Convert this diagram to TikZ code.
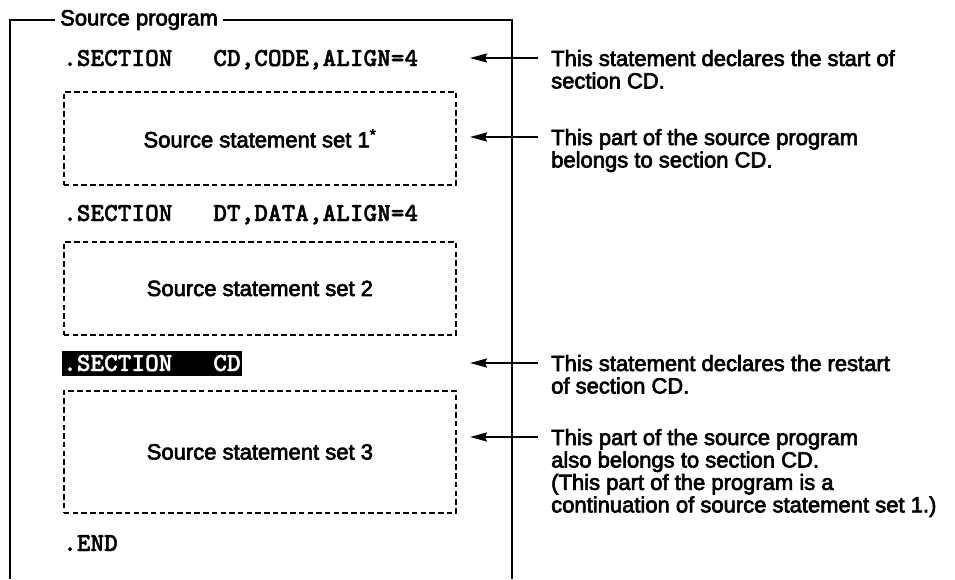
\documentclass[tikz,border=0pt]{standalone}
\usepackage{fontspec}
\setmainfont{Liberation Sans}
\newfontfamily\labelfont{Liberation Sans}[FakeBold=3]
\newfontfamily\codefont{lmmonolt10-bold.otf}[FakeBold=1.5]
\usetikzlibrary{arrows.meta}

\begin{document}
\begin{tikzpicture}[x=1pt,y=-1pt,
  sans/.style={font=\labelfont\fontsize{22}{21.7}\selectfont},
  codetext/.style={font=\codefont\fontsize{26}{26}\selectfont},
  code/.style={codetext, anchor=base west, inner sep=0pt},
  frameline/.style={line width=2.4pt},
  stmtbox/.style={draw, dash pattern=on 5.5pt off 3.2pt, line width=1.8pt,
                  anchor=north west, sans, inner sep=0pt},
  note/.style={sans, anchor=base west, inner sep=0pt},
  pointer/.style={line width=2.2pt, -{Stealth[length=17pt,width=9pt,inset=2pt]}}]
\useasboundingbox (0,0) rectangle (955,579);

% outer frame of the source program
\node[sans, anchor=west, inner xsep=5pt, inner ysep=0pt] (title) at (55,20) {Source program};
\draw[frameline] (10,579) -- (10,20) -- (title.west);
\draw[frameline] (title.east) -- (512,20) -- (512,579);

% program lines and statement sets
\node[code] (sec1) at (63,66) {.SECTION~~~CD,CODE,ALIGN=4};
\node[stmtbox, minimum width=392pt, minimum height=93pt] (set1) at (63,91)
  {Source statement set 1\textsuperscript{*}};
\node[code] (sec2) at (63,221) {.SECTION~~~DT,DATA,ALIGN=4};
\node[stmtbox, minimum width=392pt, minimum height=93pt] (set2) at (63,241)
  {Source statement set 2};
\node[codetext, fill=black, text=white,
      anchor=west, inner xsep=1pt, inner ysep=0pt, minimum height=25pt,
      text height=16pt, text depth=0pt] (sec3) at (62,363) {.SECTION~~~CD};
\node[stmtbox, minimum width=392pt, minimum height=122pt] (set3) at (63,390)
  {Source statement set 3};
\node[code] (endl) at (63,551) {.END};

% explanations
\node[note] (n1) at (551,66) {\begin{tabular}[t]{@{}l@{}}This statement declares the start of\\section CD.\end{tabular}};
\node[note] (n2) at (551,145) {\begin{tabular}[t]{@{}l@{}}This part of the source program\\belongs to section CD.\end{tabular}};
\node[note] (n3) at (551,371) {\begin{tabular}[t]{@{}l@{}}This statement declares the restart\\of section CD.\end{tabular}};
\node[note] (n4) at (551,445) {\begin{tabular}[t]{@{}l@{}}This part of the source program\\also belongs to section CD.\\(This part of the program is a\\continuation of source statement set 1.)\end{tabular}};

% pointers from the explanations back into the program
\coordinate (p1) at (538,58);  \coordinate (q1) at (470,58);
\coordinate (p2) at (538,137); \coordinate (q2) at (470,137);
\coordinate (p3) at (538,363); \coordinate (q3) at (470,363);
\coordinate (p4) at (538,437); \coordinate (q4) at (470,437);
\draw[pointer] (p1) -- (q1);
\draw[pointer] (p2) -- (q2);
\draw[pointer] (p3) -- (q3);
\draw[pointer] (p4) -- (q4);
\end{tikzpicture}
\end{document}
